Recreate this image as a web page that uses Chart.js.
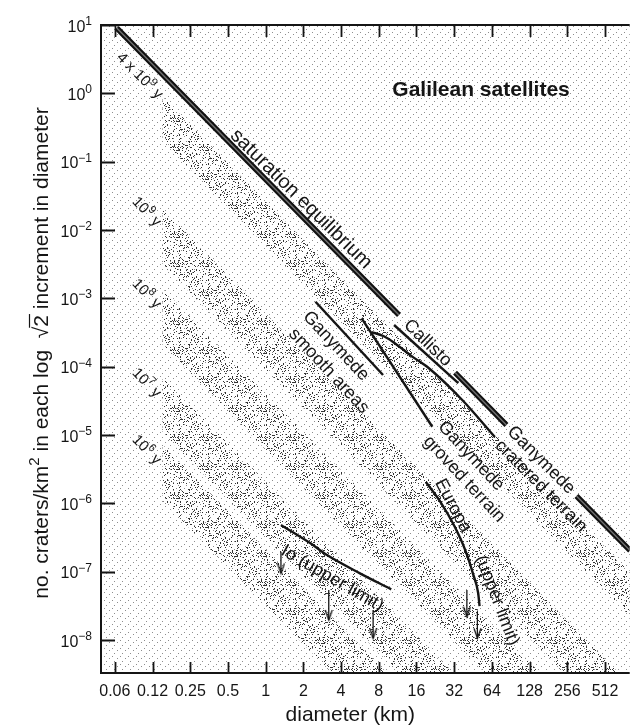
<!DOCTYPE html>
<html>
<head>
<meta charset="utf-8">
<script src="https://cdn.jsdelivr.net/npm/chart.js@4.4.1/dist/chart.umd.min.js"></script>
<style>
  html, body { margin: 0; padding: 0; background: #fff; }
  canvas { display: block; }
</style>
</head>
<body>
<canvas id="craterChart" width="637" height="728"></canvas>
<script>
// axis ticks
const diamTicks = [0.0625, 0.125, 0.25, 0.5, 1, 2, 4, 8, 16, 32, 64, 128, 256, 512];
const diamTickLabels = ['0.06', '0.12', '0.25', '0.5', '1', '2', '4', '8', '16', '32', '64', '128', '256', '512'];
const densityTicks = [1e-8, 1e-7, 1e-6, 1e-5, 1e-4, 1e-3, 1e-2, 1e-1, 1, 10];

// saturation equilibrium (null = break in the line)
const satDiam = [0.0648, 11.6, 20, 32.5, 83.6, 150, 302.7, 812];
const satDensity = [9.04, 5.70e-4, null, 8.20e-5, 1.40e-5, null, 1.28e-6, 2.04e-7];

// measured crater curves
const callistoDiam = [10.6, 34.5];
const callistoDensity = [4.07e-4, 5.76e-5];
const smoothDiam = [2.50, 8.65];
const smoothDensity = [8.93e-4, 7.55e-5];
const grovedDiam = [5.84, 21.4];
const grovedDensity = [5.10e-4, 1.32e-5];
const crateredDiam = [6.99, 8.70, 10.4, 15.0, 20.0, 37.1, 67.6];
const crateredDensity = [3.21e-4, 2.81e-4, 2.30e-4, 1.38e-4, 9.55e-5, 3.25e-5, 9.33e-6];
const europaDiam = [19.0, 24.9, 32.1, 39.2, 45.3, 49.7, 51.0];
const europaDensity = [2.05e-6, 1.045e-6, 4.66e-7, 2.07e-7, 9.23e-8, 4.87e-8, 3.14e-8];
const ioDiam = [1.325, 2.28, 3.09, 5.66, 10.06];
const ioDensity = [4.82e-7, 2.60e-7, 1.75e-7, 9.46e-8, 5.52e-8];

// upper-limit arrows: diameter, top of shaft, arrow tip
const ioArrowDiam = [1.325, 3.19, 7.21];
const ioArrowTop = [1.96e-7, 5.38e-8, 2.75e-8];
const ioArrowTip = [9.46e-8, 1.96e-8, 1.06e-8];
const europaArrowDiam = [40.4, 49.0];
const europaArrowTop = [5.38e-8, 2.59e-8];
const europaArrowTip = [2.19e-8, 1.06e-8];

// isochron bands (upper / lower edge at each band diameter)
const bandDiam = [0.15, 1000];
const band4e9Upper = [0.899, 6.59e-8];
const band4e9Lower = [0.204, 1.50e-8];
const band1e9Upper = [0.0207, 1.51e-9];
const band1e9Lower = [3.13e-3, 2.29e-10];
const band1e8Upper = [1.39e-3, 1.02e-10];
const band1e8Lower = [2.11e-4, 1.55e-11];
const band1e7Upper = [7.18e-5, 5.26e-12];
const band1e7Lower = [1.09e-5, 7.98e-13];
const band1e6Upper = [7.26e-6, 5.32e-13];
const band1e6Lower = [1.10e-6, 8.07e-14];

const FONT = '"Liberation Sans", Arial, Helvetica, sans-serif';
const INK = '#151515';

const canvas = document.getElementById('craterChart');
const ctx0 = canvas.getContext('2d');

// stipple tiles for the shaded background and the bands
function stipple(size, color, pick) {
  const c = document.createElement('canvas');
  c.width = c.height = size;
  const g = c.getContext('2d');
  g.fillStyle = color;
  for (let i = 0; i < size; i++) {
    for (let j = 0; j < size; j++) {
      if (pick(i, j)) g.fillRect(i, j, 1, 1);
    }
  }
  return ctx0.createPattern(c, 'repeat');
}
const baseDots = [[0, 0], [5, 2], [2, 5]];
const basePattern = stipple(8, '#8e8e8e', (i, j) => baseDots.some(d => d[0] === i && d[1] === j));
let seed = 12345;
const bandPattern = stipple(29, '#333', () => {
  seed = (seed * 1664525 + 1013904223) >>> 0;
  return seed / 4294967296 < 0.15;
});

const arrowHead = (() => {
  const c = document.createElement('canvas');
  c.width = 9; c.height = 24;
  const g = c.getContext('2d');
  g.strokeStyle = INK; g.lineWidth = 1.3;
  g.beginPath(); g.moveTo(1, 2); g.lineTo(4.5, 12); g.lineTo(8, 2); g.stroke();
  return c;
})();

const pts = (xs, ys) => xs.map((x, i) => ({ x: x, y: ys[i] }));

function band(upper, lower) {
  const common = { borderColor: 'rgba(0,0,0,0)', borderWidth: 0, pointRadius: 0, order: 10 };
  return [
    Object.assign({ data: pts(bandDiam, upper), fill: '+1', backgroundColor: bandPattern }, common),
    Object.assign({ data: pts(bandDiam, lower), fill: false }, common)
  ];
}
function curve(xs, ys, smooth) {
  return { data: pts(xs, ys), borderColor: INK, borderWidth: 2.4, pointRadius: 0, order: 2,
           cubicInterpolationMode: smooth ? 'monotone' : 'default' };
}
function arrows(xs, tops, tips) {
  return xs.map((x, i) => ({
    data: [{ x: x, y: tops[i] }, { x: x, y: tips[i] }],
    borderColor: INK, borderWidth: 1.3, order: 2,
    pointRadius: [0, 6], pointStyle: ['circle', arrowHead]
  }));
}

const datasets = [].concat(
  band(band4e9Upper, band4e9Lower),
  band(band1e9Upper, band1e9Lower),
  band(band1e8Upper, band1e8Lower),
  band(band1e7Upper, band1e7Lower),
  band(band1e6Upper, band1e6Lower),
  [{ data: pts(satDiam, satDensity), borderColor: '#111', borderWidth: 5.5, pointRadius: 0, spanGaps: false, order: 1 },
   { data: pts(satDiam, satDensity), borderColor: '#707070', borderWidth: 1.4, pointRadius: 0, spanGaps: false, order: 0 }],
  [curve(callistoDiam, callistoDensity), curve(smoothDiam, smoothDensity), curve(grovedDiam, grovedDensity),
   curve(crateredDiam, crateredDensity, true), curve(europaDiam, europaDensity, true), curve(ioDiam, ioDensity, true)],
  arrows(ioArrowDiam, ioArrowTop, ioArrowTip),
  arrows(europaArrowDiam, europaArrowTop, europaArrowTip)
);

// text placed at (diameter, density), rotated by angle in degrees
const notes = [
  { parts: [{ t: 'Galilean satellites' }], d: 52.4, n: 1.16, angle: 0, size: 21, bold: true },
  { parts: [{ t: 'saturation equilibrium' }], d: 1.96, n: 0.0294, angle: 44.5, size: 20 },
  { parts: [{ t: '4 x 10' }, { t: '9', sup: true }, { t: ' y' }], d: 0.1002, n: 1.85, angle: 45, size: 15 },
  { parts: [{ t: '10' }, { t: '9', sup: true }, { t: ' y' }], d: 0.1138, n: 0.0190, angle: 46, size: 15 },
  { parts: [{ t: '10' }, { t: '8', sup: true }, { t: ' y' }], d: 0.1138, n: 1.20e-3, angle: 46, size: 15 },
  { parts: [{ t: '10' }, { t: '7', sup: true }, { t: ' y' }], d: 0.1138, n: 5.96e-5, angle: 46, size: 15 },
  { parts: [{ t: '10' }, { t: '6', sup: true }, { t: ' y' }], d: 0.1138, n: 6.24e-6, angle: 46, size: 15 },
  { parts: [{ t: 'Callisto' }], d: 20.0, n: 2.30e-4, angle: 44, size: 18 },
  { parts: [{ t: 'Ganymede' }], d: 3.71, n: 2.07e-4, angle: 47, size: 18 },
  { parts: [{ t: 'smooth areas' }], d: 3.26, n: 8.93e-5, angle: 47, size: 18 },
  { parts: [{ t: 'Ganymede' }], d: 44.5, n: 5.09e-6, angle: 47, size: 18 },
  { parts: [{ t: 'groved terrain' }], d: 39.2, n: 2.34e-6, angle: 47, size: 18 },
  { parts: [{ t: 'Ganymede' }], d: 161, n: 4.45e-6, angle: 45, size: 18 },
  { parts: [{ t: 'cratered terrain' }], d: 161, n: 1.85e-6, angle: 45, size: 18 },
  { parts: [{ t: 'Europa' }], d: 32.0, n: 9.44e-7, angle: 62, size: 18 },
  { parts: [{ t: '(upper limit)' }], d: 72.3, n: 3.85e-8, angle: 69, size: 18 },
  { parts: [{ t: 'Io (upper limit)' }], d: 3.45, n: 8.3e-8, angle: 30, size: 18 }
];

function drawRich(ctx, parts, x, y, angle, size, bold, align) {
  const w = bold ? 'bold ' : '';
  const main = w + size + 'px ' + FONT;
  const sup = w + Math.round(size * 0.72) + 'px ' + FONT;
  ctx.save();
  ctx.translate(x, y);
  ctx.rotate(angle * Math.PI / 180);
  ctx.fillStyle = INK;
  ctx.strokeStyle = INK;
  ctx.textBaseline = 'alphabetic';
  ctx.textAlign = 'left';
  const widths = parts.map(p => { ctx.font = p.sup ? sup : main; return ctx.measureText(p.t).width; });
  const total = widths.reduce((a, b) => a + b, 0);
  let cx = align === 'right' ? -total : -total / 2;
  const base = size * 0.36;
  parts.forEach((p, i) => {
    ctx.font = p.sup ? sup : main;
    const dy = p.sup ? base - size * 0.42 : base;
    ctx.fillText(p.t, cx, dy);
    if (p.over) {
      ctx.lineWidth = 1.2;
      ctx.beginPath();
      ctx.moveTo(cx - 1, dy - size * 0.86);
      ctx.lineTo(cx + widths[i] + 1, dy - size * 0.86);
      ctx.stroke();
    }
    cx += widths[i];
  });
  ctx.restore();
}

const superscript = e => (e < 0 ? '\u2212' : '') + Math.abs(e);

const framePlugin = {
  id: 'frame',
  beforeDatasetsDraw(chart) {
    const { ctx, chartArea: a } = chart;
    ctx.save();
    ctx.fillStyle = basePattern;
    ctx.fillRect(a.left, a.top, a.right - a.left, a.bottom - a.top);
    ctx.restore();
  },
  afterDatasetsDraw(chart) {
    const { ctx, chartArea: a, scales: { x, y } } = chart;
    ctx.save();
    ctx.strokeStyle = INK;
    // frame
    ctx.lineWidth = 2;
    ctx.beginPath();
    ctx.moveTo(a.left, a.top); ctx.lineTo(a.right, a.top);
    ctx.moveTo(a.left, a.top - 1); ctx.lineTo(a.left, a.bottom + 1);
    ctx.moveTo(a.left - 1, a.bottom); ctx.lineTo(a.right, a.bottom);
    ctx.stroke();
    // inward ticks
    ctx.lineWidth = 1.8;
    ctx.beginPath();
    diamTicks.forEach(v => {
      const px = Math.round(x.getPixelForValue(v)) + 0.5;
      ctx.moveTo(px, a.bottom); ctx.lineTo(px, a.bottom - 11);
      ctx.moveTo(px, a.top); ctx.lineTo(px, a.top + 12);
    });
    densityTicks.forEach(v => {
      const py = Math.round(y.getPixelForValue(v)) + 0.5;
      ctx.moveTo(a.left, py); ctx.lineTo(a.left + 14, py);
    });
    ctx.stroke();
    ctx.restore();

    // density tick labels: 10 with superscript exponent
    densityTicks.forEach(v => {
      const py = y.getPixelForValue(v);
      const e = Math.round(Math.log10(v));
      drawRich(ctx, [{ t: '10' }, { t: superscript(e), sup: true }], a.left - 9, py + 1, 0, 16, false, 'right');
    });

    notes.forEach(nt => {
      drawRich(ctx, nt.parts, x.getPixelForValue(nt.d), y.getPixelForValue(nt.n), nt.angle, nt.size, nt.bold);
    });

    // axis titles
    drawRich(ctx, [{ t: 'no. craters/km' }, { t: '2', sup: true }, { t: ' in each log  ' },
                   { t: '\u221A' }, { t: '2', over: true }, { t: ' increment in diameter' }],
             40, (a.top + a.bottom) / 2 + 4, -90, 21);
    drawRich(ctx, [{ t: 'diameter (km)' }], (a.left + a.right) / 2 - 15, 713, 0, 21);
  }
};

new Chart(canvas, {
  type: 'line',
  data: { datasets: datasets },
  options: {
    responsive: false,
    devicePixelRatio: 1,
    animation: false,
    events: [],
    layout: { padding: { top: 25, right: 0, bottom: 0, left: 0 } },
    datasets: { line: { clip: 0 } },
    plugins: { legend: { display: false }, tooltip: { enabled: false } },
    scales: {
      x: {
        type: 'logarithmic',
        min: 0.0485,
        max: 805.6,
        afterBuildTicks: s => { s.ticks = diamTicks.map(v => ({ value: v })); },
        afterFit: s => { s.height = 55; },
        grid: { display: false, drawTicks: false },
        border: { display: false },
        ticks: {
          autoSkip: false, maxRotation: 0, minRotation: 0, padding: 9, color: INK,
          font: { family: FONT, size: 16 },
          callback: (v, i) => diamTickLabels[i]
        }
      },
      y: {
        type: 'logarithmic',
        min: 3.29e-9,
        max: 10,
        afterBuildTicks: s => { s.ticks = densityTicks.map(v => ({ value: v })); },
        afterFit: s => { s.width = 101; },
        grid: { display: false, drawTicks: false },
        border: { display: false },
        ticks: { display: false }
      }
    }
  },
  plugins: [framePlugin]
});
</script>
</body>
</html>
